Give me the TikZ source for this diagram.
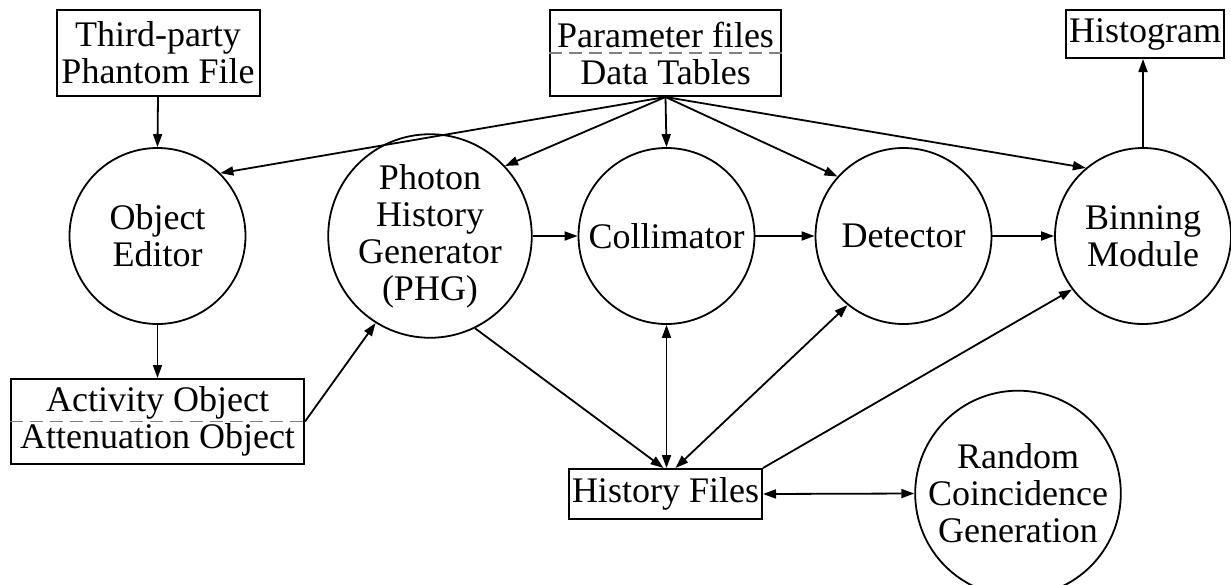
\documentclass[tikz,border=0pt]{standalone}
\usepackage{fontspec}
\setmainfont{Liberation Serif}
\usepackage{tikz}
\usetikzlibrary{arrows.meta}

\begin{document}
\begin{tikzpicture}[x=0.5pt, y=-0.5pt,
	font=\fontsize{18}{18.5}\selectfont,
	>={Triangle[length=6.5pt, width=4.5pt]},
	box/.style={draw, line width=1pt, rectangle, align=center, inner sep=0pt},
	unit/.style={draw, line width=0.9pt, circle, align=center, inner sep=0pt, minimum size=88pt},
	sep/.style={draw=gray, line width=0.8pt, dash pattern=on 6.5pt off 3.5pt},
	flow/.style={line width=0.9pt}]
	
	\useasboundingbox (0,0) rectangle (1231,584);
	
	\node[box, minimum width=101.5pt, minimum height=43pt] (phantom) at (158,52.5) {Third-party\\Phantom File};
	\node[box, minimum width=115.5pt, minimum height=43pt] (param) at (665.5,53) {Parameter files\\Data Tables};
	\node[box, minimum width=79pt, minimum height=24pt] (hist) at (1145,34) {Histogram};
	\node[unit] (objed) at (157.5,236) {Object\\Editor};
	\node[unit] (phg) at (430,236) {Photon\\History\\Generator\\(PHG)};
	\node[unit] (coll) at (666.5,236) {Collimator};
	\node[unit] (det) at (903.5,236) {Detector};
	\node[unit] (bin) at (1143,236) {Binning\\Module};
	\node[box, minimum width=146.5pt, minimum height=42.5pt] (act) at (157.5,421.5) {Activity Object\\Attenuation Object};
	\node[box, minimum width=96.5pt, minimum height=25pt] (histf) at (665.5,494) {History Files};
	\node[unit, minimum size=90pt] (rand) at (1018,493.5) {Random\\Coincidence\\Generation};
	
	% dashed separators
	\draw[sep] (param.west) -- (param.east);
	\draw[sep] (act.west) -- (act.east);
	
	\draw[flow, ->] (phantom.south) -- (objed.north);
	\draw[flow, ->] (param.south) -- (objed.45);
	\draw[flow, ->] (param.south) -- (phg.43);
	\draw[flow, ->] (param.south) -- (coll.north);
	\draw[flow, ->] (param.south) -- (det.138);
	\draw[flow, ->] (param.south) -- (bin.130);
	\draw[flow, ->] (objed.south) -- (act.north);
	\draw[flow, ->] (act.east) -- (phg.238);
	\draw[flow, ->] (phg.east) -- (coll.west);
	\draw[flow, ->] (coll.east) -- (det.west);
	\draw[flow, ->] (det.east) -- (bin.west);
	\draw[flow, ->] (bin.north) -- (bin.north |- hist.south);
	
	% to and from the history files
	\draw[flow, ->] (phg.296) -- ([xshift=-1pt]histf.north);
	\draw[flow, <->] (coll.south) -- (coll.south |- histf.north);
	\draw[flow, <->] ([xshift=5pt]histf.north) -- (det.231);
	\draw[flow, ->] (histf.north east) -- (bin.217);
	\draw[flow, <->] (histf.east) -- (rand.west);
	
\end{tikzpicture}
\end{document}
